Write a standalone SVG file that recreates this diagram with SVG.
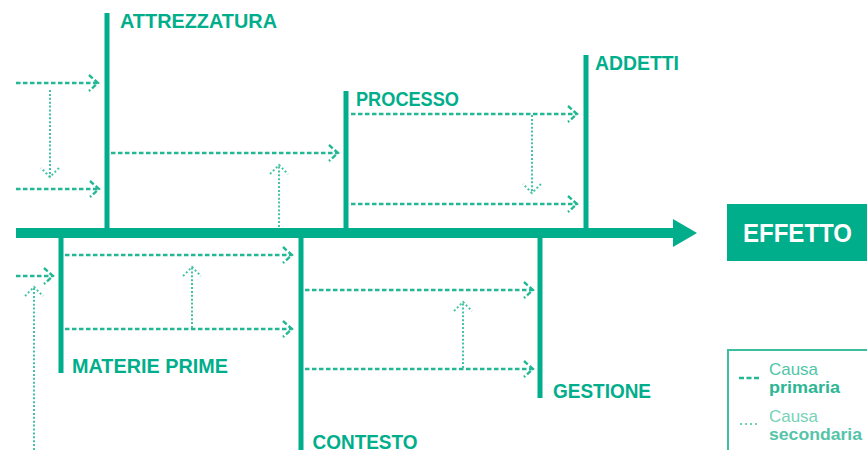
<svg xmlns="http://www.w3.org/2000/svg" width="867" height="450" viewBox="0 0 867 450">
<style>
.bone{fill:#00ae8b}
.lbl{font-family:"Liberation Sans",Arial,sans-serif;font-weight:bold;font-size:21px;fill:#00ae8b}
.pri{fill:none;stroke:#22b893;stroke-width:2.4;stroke-dasharray:4.5 2.5}
.sec{fill:none;stroke:#45c3a4;stroke-width:2;stroke-dasharray:2 1.9}
.leg{font-family:"Liberation Sans",Arial,sans-serif;font-size:17px}
</style>
<defs>
<marker id="mp" markerUnits="userSpaceOnUse" viewBox="-11 -10 13 20" markerWidth="13" markerHeight="20" refX="0" refY="0" orient="auto">
<path d="M-9,-8 L0,0 L-9,8" fill="none" stroke="#22b893" stroke-width="2.4" stroke-dasharray="5 2.5"/>
</marker>
<marker id="ms" markerUnits="userSpaceOnUse" viewBox="-11 -11 13 22" markerWidth="13" markerHeight="22" refX="0" refY="0" orient="auto">
<path d="M-9,-9 L0,0 L-9,9" fill="none" stroke="#45c3a4" stroke-width="2" stroke-dasharray="2 2.2"/>
</marker>
</defs>
<rect width="867" height="450" fill="#ffffff"/>
<g id="spine">
<rect x="16" y="228" width="658" height="10" class="bone"/>
<polygon points="673,219 697,233 673,247" class="bone"/>
</g>
<g id="attrezzatura">
<rect x="104.5" y="13" width="5" height="215" class="bone"/>
<text x="120" y="28" class="lbl" textLength="157" lengthAdjust="spacingAndGlyphs">ATTREZZATURA</text>
</g>
<g id="processo">
<rect x="343.5" y="91" width="5" height="137" class="bone"/>
<text x="356" y="105.5" class="lbl" textLength="103" lengthAdjust="spacingAndGlyphs">PROCESSO</text>
</g>
<g id="addetti">
<rect x="583.5" y="55" width="5" height="173" class="bone"/>
<text x="595" y="69.5" class="lbl" textLength="84" lengthAdjust="spacingAndGlyphs">ADDETTI</text>
</g>
<g id="materie-prime">
<rect x="58.5" y="238" width="5" height="135" class="bone"/>
<text x="72" y="373" class="lbl" textLength="156" lengthAdjust="spacingAndGlyphs">MATERIE PRIME</text>
</g>
<g id="contesto">
<rect x="298.5" y="238" width="5" height="212" class="bone"/>
<text x="312.5" y="448.5" class="lbl" textLength="105" lengthAdjust="spacingAndGlyphs">CONTESTO</text>
</g>
<g id="gestione">
<rect x="537.5" y="238" width="5" height="160" class="bone"/>
<text x="553" y="397.5" class="lbl" textLength="98" lengthAdjust="spacingAndGlyphs">GESTIONE</text>
</g>
<g id="effetto">
<rect x="727" y="204" width="140" height="57" fill="#00ae8b"/>
<text x="743" y="242" font-family="'Liberation Sans',Arial,sans-serif" font-weight="bold" font-size="25" fill="#ffffff" textLength="109" lengthAdjust="spacingAndGlyphs">EFFETTO</text>
</g>
<g id="connectors">
<path class="pri" d="M16,83 H98" marker-end="url(#mp)"/>
<path class="pri" d="M16,189 H99" marker-end="url(#mp)"/>
<path class="pri" d="M111,153 H338" marker-end="url(#mp)"/>
<path class="pri" d="M351,114 H577" marker-end="url(#mp)"/>
<path class="pri" d="M351,204 H577" marker-end="url(#mp)"/>
<path class="pri" d="M65,255 H292" marker-end="url(#mp)"/>
<path class="pri" d="M65,329 H292" marker-end="url(#mp)"/>
<path class="pri" d="M16,276 H53" marker-end="url(#mp)"/>
<path class="pri" d="M305,290 H533" marker-end="url(#mp)"/>
<path class="pri" d="M305,369 H533" marker-end="url(#mp)"/>
<path class="sec" d="M50,90 V177" marker-end="url(#ms)"/>
<path class="sec" d="M279,227 V165" marker-end="url(#ms)"/>
<path class="sec" d="M532,115 V193" marker-end="url(#ms)"/>
<path class="sec" d="M192,328 V267" marker-end="url(#ms)"/>
<path class="sec" d="M34,450 V287" marker-end="url(#ms)"/>
<path class="sec" d="M463,368 V302" marker-end="url(#ms)"/>
</g>
<g id="legend">
<rect x="728" y="350" width="145" height="110" fill="none" stroke="#3dbf9f" stroke-width="2"/>
<path d="M739,378 H761" fill="none" stroke="#22b893" stroke-width="2.4" stroke-dasharray="5 2.5"/>
<text x="769" y="375" class="leg" fill="#4fc6a8" textLength="49" lengthAdjust="spacingAndGlyphs">Causa</text>
<text x="769" y="393" class="leg" font-weight="bold" fill="#2cb694" textLength="71" lengthAdjust="spacingAndGlyphs">primaria</text>
<path d="M740,424 H760" fill="none" stroke="#6fd0b7" stroke-width="2" stroke-dasharray="2 3"/>
<text x="769" y="421.5" class="leg" fill="#77d2ba" textLength="49" lengthAdjust="spacingAndGlyphs">Causa</text>
<text x="769" y="440" class="leg" font-weight="bold" fill="#55c4a8" textLength="93" lengthAdjust="spacingAndGlyphs">secondaria</text>
</g>
</svg>
